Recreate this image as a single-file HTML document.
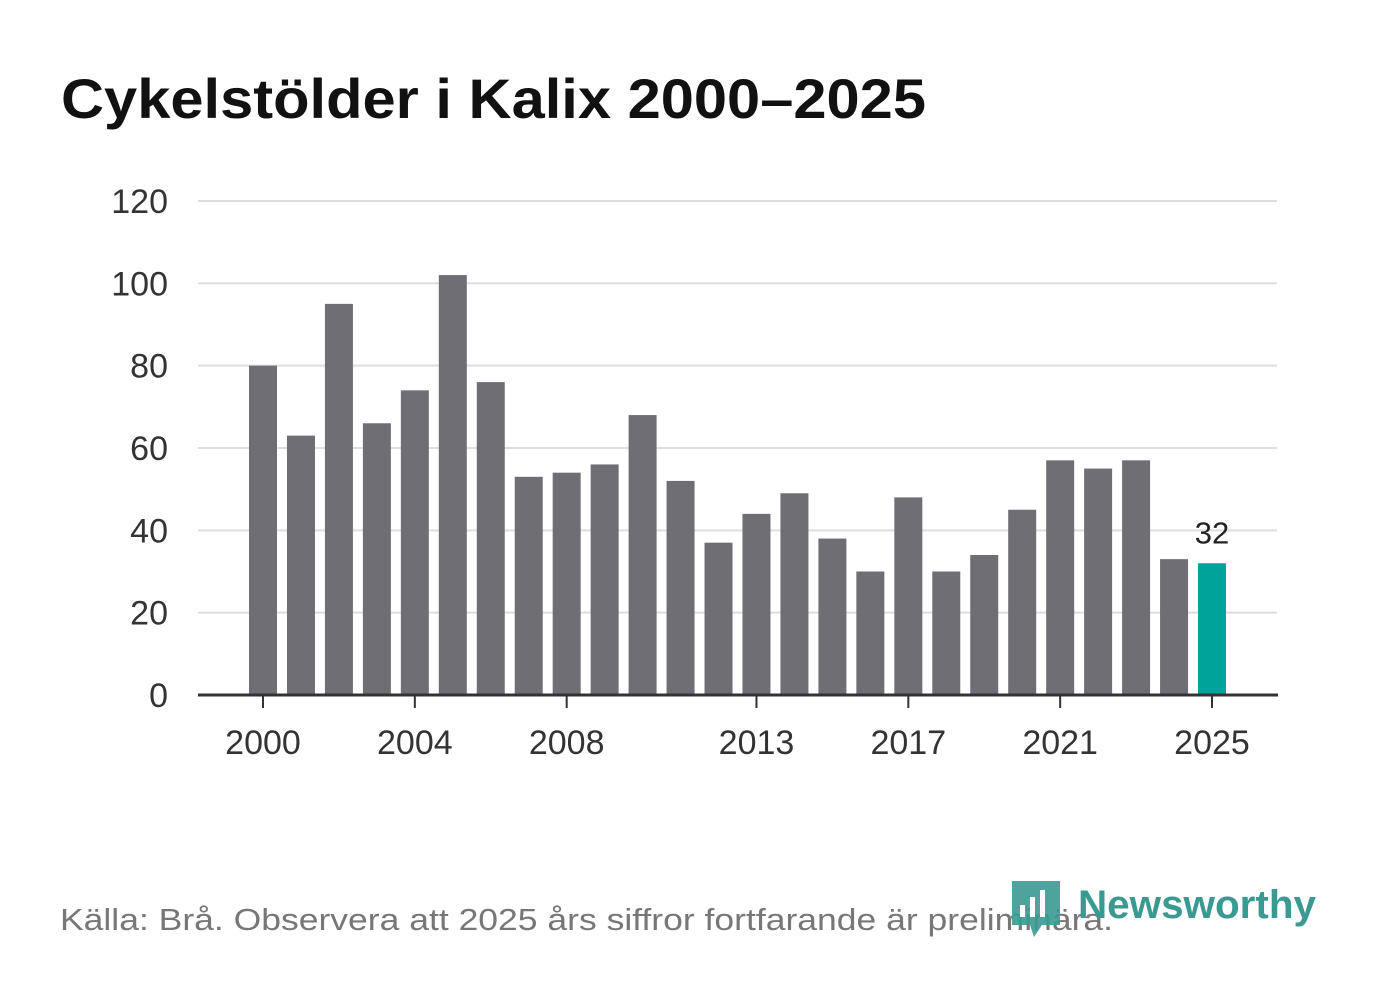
<!DOCTYPE html>
<html><head><meta charset="utf-8"><style>
body{margin:0;background:#fff;width:1382px;height:999px;overflow:hidden;font-family:"Liberation Sans",sans-serif}
</style></head><body>
<svg width="1382" height="999">
<text x="61" y="118" font-size="56" font-weight="bold" fill="#111" textLength="865" lengthAdjust="spacingAndGlyphs">Cykelstölder i Kalix 2000–2025</text>
<g id="grid"></g><g id="bars"></g><g id="xaxis"></g>
<text x="60" y="930" font-size="31" fill="#777" textLength="1053" lengthAdjust="spacingAndGlyphs">Källa: Brå. Observera att 2025 års siffror fortfarande är preliminära.</text>
<g>
<path d="M1012 881 h48 v44 h-18 l-8 12 l-4 -12 h-18 z" fill="#3a9a92" opacity="0.9"/>
<rect x="1020" y="905" width="5" height="12" fill="#fff"/><rect x="1030" y="897" width="5" height="20" fill="#fff"/><rect x="1040" y="890" width="5" height="27" fill="#fff"/>
<text x="1078" y="918" font-size="40" font-weight="bold" fill="#3a9a92" textLength="238" lengthAdjust="spacingAndGlyphs">Newsworthy</text>
</g>
</svg>
<script>
const years=[2000,2001,2002,2003,2004,2005,2006,2007,2008,2009,2010,2011,2012,2013,2014,2015,2016,2017,2018,2019,2020,2021,2022,2023,2024,2025];
const values=[80,63,95,66,74,102,76,53,54,56,68,52,37,44,49,38,30,48,30,34,45,57,55,57,33,32];
const yTicks=[0,20,40,60,80,100,120];
const xTicks=[2000,2004,2008,2013,2017,2021,2025];
const NS="http://www.w3.org/2000/svg";
const y=v=>695-v*4.117;
const x=yr=>263+(yr-2000)*37.96;
function mk(t,a,p){const e=document.createElementNS(NS,t);for(const k in a)e.setAttribute(k,a[k]);p.appendChild(e);return e;}
const g=document.getElementById('grid'),b=document.getElementById('bars'),xa=document.getElementById('xaxis');
yTicks.forEach(v=>{
 if(v>0){const l=mk('line',{x1:198,x2:1277,y1:y(v),y2:y(v),stroke:'#ddd','stroke-width':2},g);
 
 }
 const t=mk('text',{x:168,y:y(v)+12,'font-size':34,fill:'#333','text-anchor':'end'},g);t.textContent=v;
 
 
});
years.forEach((yr,i)=>{
 const v=values[i];
 const r=mk('rect',{x:x(yr)-14,y:y(v),width:28,height:695-y(v),fill:yr===2025?'#00a39a':'#6f6e74'},b);
 
 
});
const last=values.length-1;
const lab=mk('text',{x:x(years[last]),y:y(values[last])-20,'font-size':31,fill:'#222','text-anchor':'middle'},b);
lab.textContent=values[last];


const ax=mk('line',{x1:198,x2:1278,y1:695,y2:695,stroke:'#333','stroke-width':3},xa);


xTicks.forEach(yr=>{
 mk('line',{x1:x(yr),x2:x(yr),y1:695,y2:708,stroke:'#333','stroke-width':2},xa);
 const t=mk('text',{x:x(yr),y:754,'font-size':34,fill:'#333','text-anchor':'middle'},xa);t.textContent=yr;
 
 
});
</script>
</body></html>
